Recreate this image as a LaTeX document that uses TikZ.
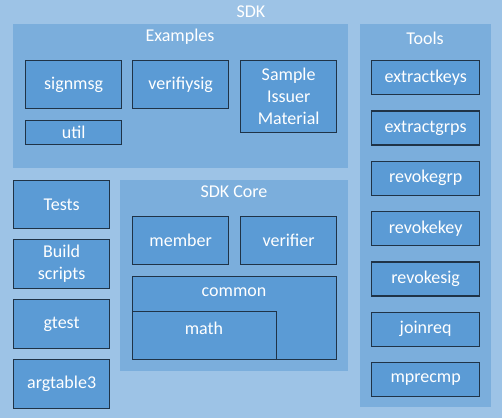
\documentclass[tikz,border=0pt]{standalone}
\usepackage{fontspec}
\setmainfont{Carlito}
\definecolor{sdkbg}{HTML}{9DC3E6}
\definecolor{panelbg}{HTML}{7BAEDC}
\definecolor{boxbg}{HTML}{5B9BD5}
\definecolor{boxline}{HTML}{1F3347}

\tikzset{
    panel/.style={fill=panelbg, draw=none, anchor=north west, inner sep=0pt},
    blk/.style={fill=boxbg, draw=boxline, line width=1.3pt, anchor=north west, inner sep=0pt,
        text=white, align=center, font=\fontsize{18}{22}\selectfont},
    ttl/.style={text=white, font=\fontsize{18}{22}\selectfont, inner sep=0pt},
}

\begin{document}
\begin{tikzpicture}[x=1pt, y=-1pt]

% Outer SDK area
\useasboundingbox (0,0) rectangle (502,418);
\fill[sdkbg] (0,0) rectangle (502,418);
\node[ttl] (sdk) at (251,12) {SDK};

% Examples
\node[panel, minimum width=335, minimum height=144] (examples) at (13,24) {};
\node[ttl] (examplesT) at (180,37) {Examples};
\node[blk, minimum width=96, minimum height=48] (signmsg) at (25,60) {signmsg};
\node[blk, minimum width=96, minimum height=48] (verifiysig) at (132,60) {verifiysig};
\node[blk, minimum width=96, minimum height=72] (sample) at (240,60) {Sample\\Issuer\\Material};
\node[blk, minimum width=96, minimum height=24] (util) at (25,120) {util};

% Tools
\node[panel, minimum width=131, minimum height=383] (tools) at (360,24) {};
\node[ttl] (toolsT) at (425,38) {Tools};
\foreach \name [count=\i from 0] in {extractkeys, extractgrps, revokegrp, revokekey, revokesig, joinreq, mprecmp}
    \node[blk, minimum width=108, minimum height=34] (\name) at (371,60+\i*50.3) {\name};

% Left column
\node[blk, minimum width=96, minimum height=48] (tests) at (13,180) {Tests};
\node[blk, minimum width=96, minimum height=49] (build) at (13,239) {Build\\scripts};
\node[blk, minimum width=96, minimum height=49] (gtest) at (13,299) {gtest};
\node[blk, minimum width=96, minimum height=49] (argtable) at (13,359) {argtable3};

% SDK Core
\node[panel, minimum width=228, minimum height=191] (core) at (120,180) {};
\node[ttl] (coreT) at (234,192) {SDK Core};
\node[blk, minimum width=96, minimum height=48] (member) at (132,216) {member};
\node[blk, minimum width=96, minimum height=48] (verifier) at (240,216) {verifier};
\node[blk, minimum width=204, minimum height=83] (common) at (132,276) {};
\node[ttl] (commonT) at (234,292) {common};
\node[blk, minimum width=144, minimum height=48] (math) at (132,311) {};
\node[ttl] (mathT) at (204,328) {math};

\end{tikzpicture}
\end{document}
